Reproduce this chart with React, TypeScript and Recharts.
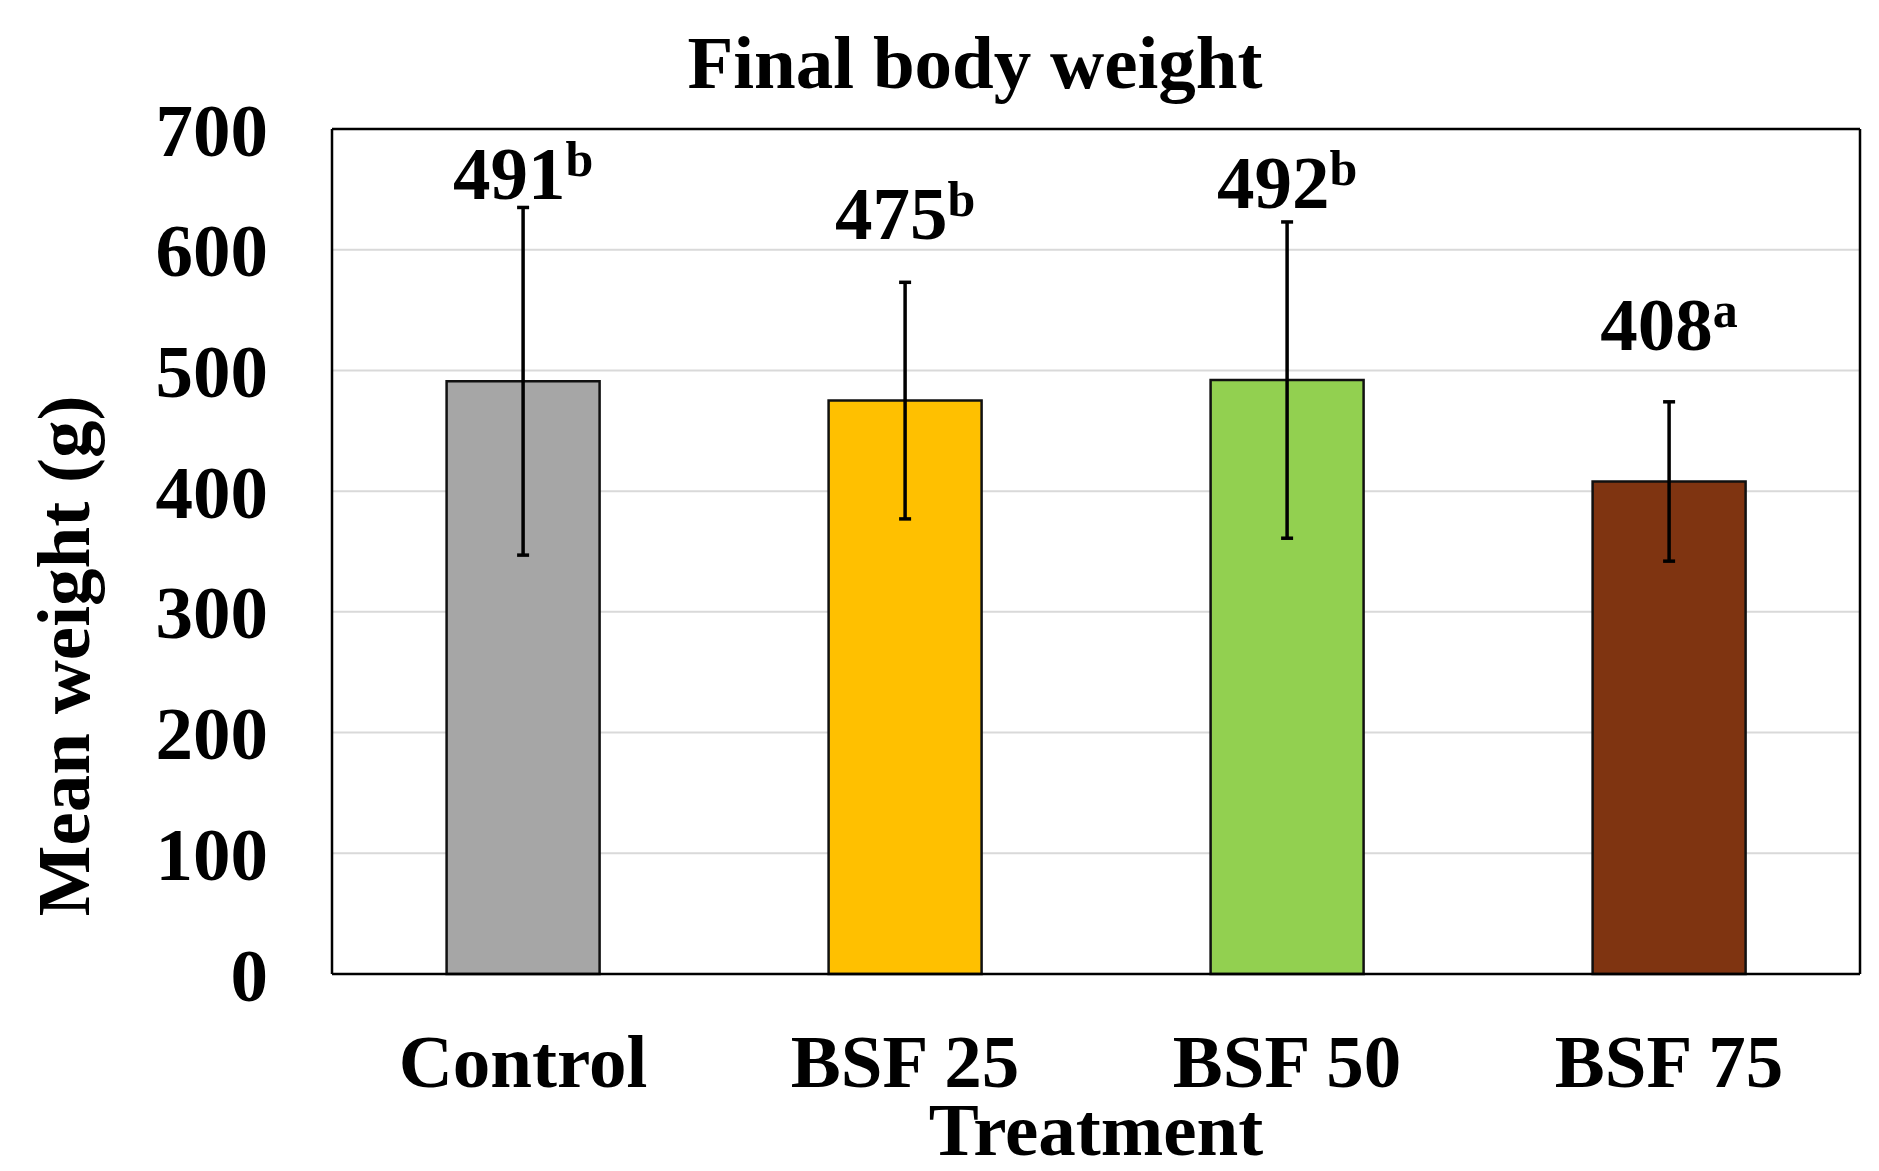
import React from 'react';
import { BarChart, Bar, XAxis, YAxis, CartesianGrid, ErrorBar, Cell, LabelList, Customized } from 'recharts';

const categories = ['Control', 'BSF 25', 'BSF 50', 'BSF 75'];
const means = [491, 475, 492, 408];
const errors = [144, 98, 131, 66];
const letters = ['b', 'b', 'b', 'a'];
const colors = ['#A6A6A6', '#FFC000', '#92D050', '#7F3411'];
const yTicks = [0, 100, 200, 300, 400, 500, 600, 700];

// gap in px between error-bar top and label baseline (layout only)
const labelGaps = [8, 43, 14, 52];

const data = categories.map((name, i) => ({ name, mean: means[i], err: errors[i] }));

const FONT = '"Liberation Serif", "Times New Roman", serif';

const renderLabel = (props: any) => {
  const { x, y, width, height, value } = props;
  let index = props.index;
  if (index === undefined || index === null) index = means.indexOf(Number(value));
  const v = means[index];
  const e = errors[index];
  const ppu = height / v;
  const errTop = y - e * ppu;
  const baseline = errTop - labelGaps[index];
  return (
    <text
      x={x + width / 2}
      y={baseline}
      textAnchor="middle"
      fontFamily={FONT}
      fontWeight="bold"
      fontSize={75}
      fill="#000"
    >
      {v}
      <tspan fontSize={50} dy={-23}>{letters[index]}</tspan>
    </text>
  );
};

const Title = () => (
  <text x={975} y={88} textAnchor="middle" fontFamily={FONT} fontWeight="bold" fontSize={75} fill="#000">
    Final body weight
  </text>
);

const YLabel = () => (
  <text
    transform="translate(89,656) rotate(-90)"
    textAnchor="middle"
    fontFamily={FONT}
    fontWeight="bold"
    fontSize={75}
    fill="#000"
  >
    Mean weight (g)
  </text>
);

export default function App() {
  return (
    <div style={{ position: 'absolute', left: 0, top: 0, width: 1879, height: 1171, background: '#fff' }}>
      <BarChart
        width={1879}
        height={1171}
        data={data}
        margin={{ top: 128, right: 18, bottom: 0, left: 0 }}
        barCategoryGap="30%"
      >
        <CartesianGrid vertical={false} stroke="#d9d9d9" strokeWidth={2} />
        <XAxis
          dataKey="name"
          height={197}
          tickLine={false}
          tickSize={0}
          tickMargin={60}
          axisLine={{ stroke: '#000', strokeWidth: 2.5 }}
          tick={{ fontFamily: FONT, fontWeight: 'bold', fontSize: 75, fill: '#000' }}
          interval={0}
          label={{
            value: 'Treatment',
            position: 'insideBottom',
            offset: 16,
            style: { fontFamily: FONT, fontWeight: 'bold', fontSize: 75, fill: '#000' },
          }}
        />
        <XAxis
          xAxisId="top"
          dataKey="name"
          orientation="top"
          height={1}
          tick={false}
          tickLine={false}
          axisLine={{ stroke: '#000', strokeWidth: 2.5 }}
        />
        <YAxis
          domain={[0, 700]}
          ticks={yTicks}
          width={332}
          tickLine={false}
          tickSize={0}
          tickMargin={64}
          axisLine={{ stroke: '#000', strokeWidth: 2.5 }}
          tick={{ fontFamily: FONT, fontWeight: 'bold', fontSize: 75, fill: '#000' }}
        />
        <YAxis
          yAxisId="right"
          orientation="right"
          domain={[0, 700]}
          width={1}
          tick={false}
          tickLine={false}
          axisLine={{ stroke: '#000', strokeWidth: 2.5 }}
        />
        <Bar dataKey="mean" stroke="#111" strokeWidth={2.5} isAnimationActive={false}>
          {data.map((d, i) => (
            <Cell key={d.name} fill={colors[i]} />
          ))}
          <ErrorBar dataKey="err" width={6} strokeWidth={3.5} stroke="#000" direction="y" isAnimationActive={false} />
          <LabelList dataKey="mean" content={renderLabel} />
        </Bar>
        <Customized component={<Title />} />
        <Customized component={<YLabel />} />
      </BarChart>
    </div>
  );
}
